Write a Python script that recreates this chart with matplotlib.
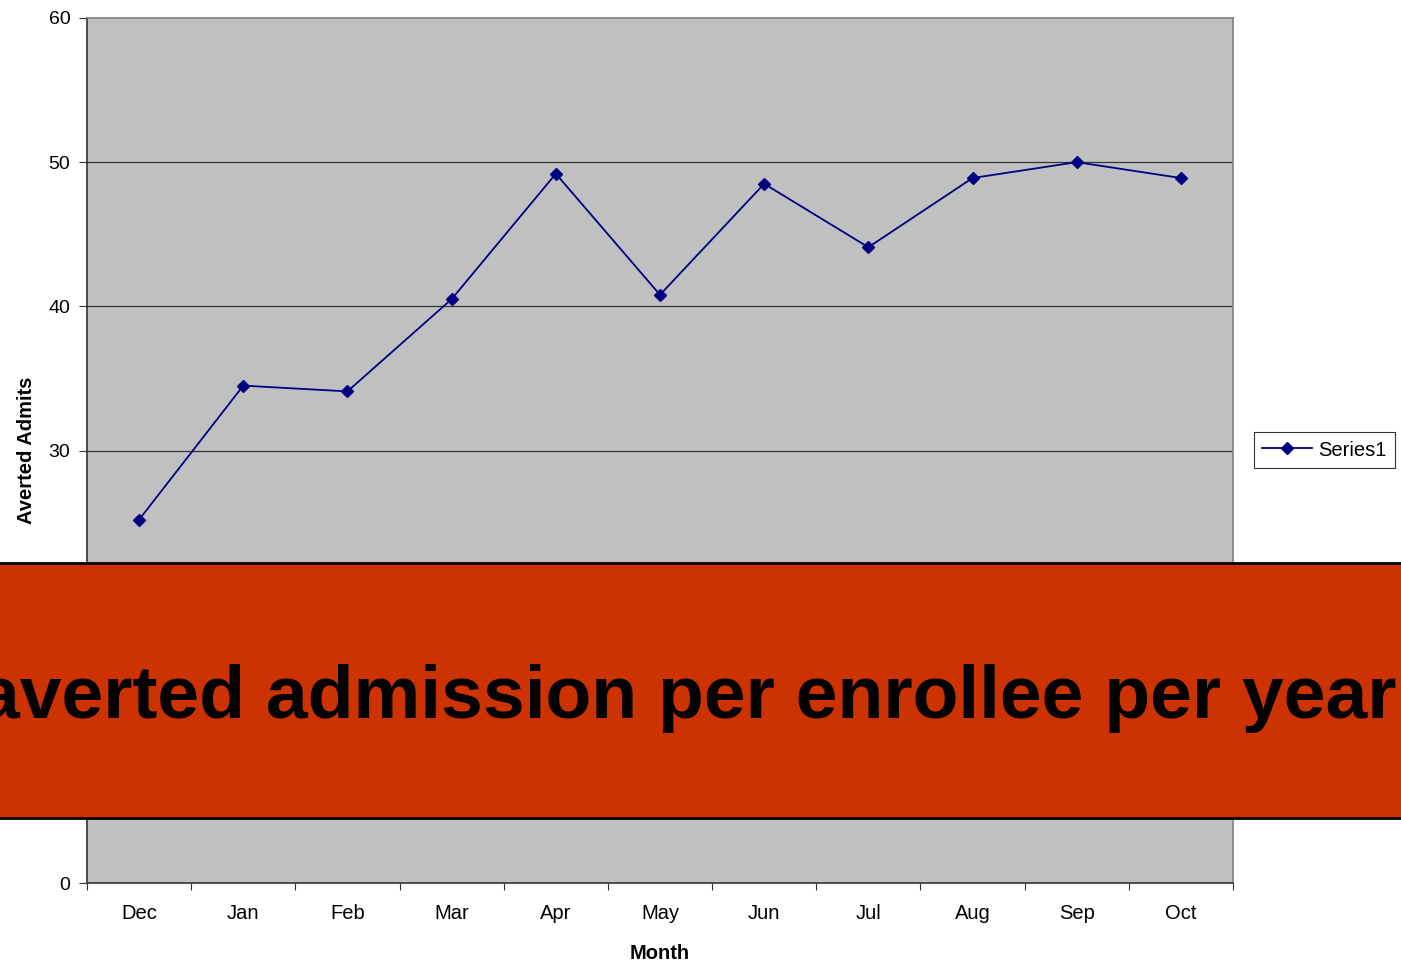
import numpy as np
import matplotlib.pyplot as plt
from matplotlib.patches import Rectangle

months = ["Dec", "Jan", "Feb", "Mar", "Apr", "May", "Jun", "Jul", "Aug", "Sep", "Oct"]
admits = [25.2, 34.5, 34.1, 40.5, 49.2, 40.8, 48.5, 44.1, 48.9, 50.0, 48.9]
yticks = [0, 10, 20, 30, 40, 50, 60]
banner_text = "averted admission per enrollee per year"

plt.rcParams['font.family'] = ['Liberation Sans', 'DejaVu Sans']

W, H = 1401, 968
fig = plt.figure(figsize=(W / 100, H / 100), dpi=100)
ax = fig.add_axes([87 / W, 1 - 883 / H, (1233 - 87) / W, (883 - 18) / H])
ax.set_facecolor("#C0C0C0")

x = np.arange(len(months))
ax.plot(x, admits, color="#000080", lw=1.3, marker="D", ms=6, label="Series1")

ax.set_xlim(-0.5, len(months) - 0.5)
ax.set_ylim(0, 60)
ax.set_yticks(yticks)
ax.set_yticklabels([str(v) for v in yticks], fontsize=14)
for v in yticks[1:-1]:
    ax.axhline(v, color="#333333", lw=0.9, zorder=0.5)

ax.set_xticks(np.arange(-0.5, len(months), 1.0))
ax.set_xticklabels([])
ax.set_xticks(x, minor=True)
ax.set_xticklabels(months, minor=True, fontsize=14.5)
ax.tick_params(axis="x", which="minor", length=0, pad=15)
ax.tick_params(axis="x", which="major", length=5, direction="out", color="#333333")
ax.tick_params(axis="y", length=6, direction="out", color="#333333", pad=6)

for s in ["left", "bottom"]:
    ax.spines[s].set_color("#333333")
    ax.spines[s].set_linewidth(1.2)
for s in ["top", "right"]:
    ax.spines[s].set_color("#808080")
    ax.spines[s].set_linewidth(1.2)

ax.set_xlabel("Month", fontsize=14.5, fontweight="bold", labelpad=15)
ax.set_ylabel("Averted Admits", fontsize=14.5, fontweight="bold", labelpad=9)

leg = fig.legend(loc="center left", bbox_to_anchor=(1254 / W, 1 - 450 / H), fontsize=14.5,
                 frameon=True, fancybox=False, handlelength=2.5, handletextpad=0.3,
                 borderpad=0.4, borderaxespad=0)
leg.get_frame().set_edgecolor("#000000")
leg.get_frame().set_linewidth(0.8)

fig.patches.append(Rectangle((-0.01, 1 - 818 / H), 1.02, (818 - 563) / H,
                             transform=fig.transFigure, facecolor="#CC3300",
                             edgecolor="#000000", lw=2, zorder=10))
fig.text(1397 / W, 1 - 718 / H, banner_text, ha="right", va="baseline",
         fontsize=54, fontweight="bold", color="#000000", zorder=11)

fig.savefig("out.png", dpi=100)
